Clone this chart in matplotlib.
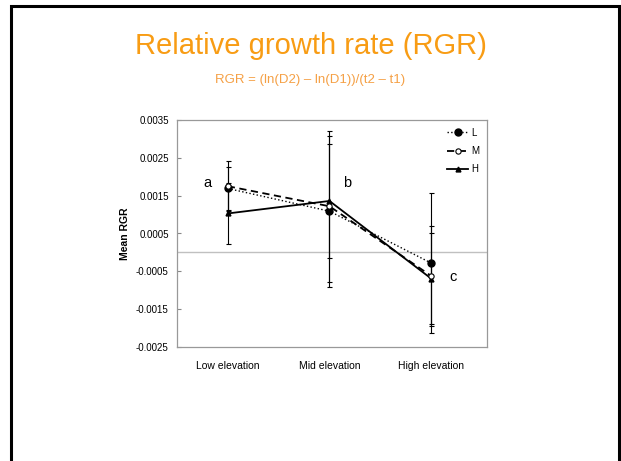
"""
Relative growth rate (RGR) by elevation, three treatment groups
"""
import matplotlib
matplotlib.use('Agg')
import matplotlib.pyplot as plt
from matplotlib.patches import Rectangle
from matplotlib.lines import Line2D

plt.rcParams['font.family'] = ['Liberation Sans', 'DejaVu Sans']

# category labels
sites = ['Low elevation', 'Mid elevation', 'High elevation']

# mean RGR per group (L, M, H)
rgr_L = [0.00169, 0.00109, -0.00028]
rgr_M = [0.00175, 0.00122, -0.00062]
rgr_H = [0.00103, 0.00136, -0.00069]

# error bar half-widths
err_L = [0.00057, 0.00200, 0.00185]
err_M = [0.00066, 0.00200, 0.00132]
err_H = [0.00081, 0.00150, 0.00120]

# significance letters
letters = ['a', 'b', 'c']
letter_x = [-0.2, 1.17, 2.22]
letter_y = [0.00183, 0.00183, -0.00066]

yticks = [0.0035, 0.0025, 0.0015, 0.0005, -0.0005, -0.0015, -0.0025]

fig = plt.figure(figsize=(6.21, 4.61), dpi=100)
fig.patch.set_facecolor('white')

# slide border
fig.patches.append(Rectangle((11 / 621, -0.05), 608 / 621, (461 - 6) / 461 + 0.05,
                             transform=fig.transFigure, fill=False,
                             edgecolor='black', linewidth=2.2))

fig.text(0.5, 1 - 46 / 461, 'Relative growth rate (RGR)', ha='center', va='center',
         fontsize=21, color='#F89C14')
fig.text(0.5, 1 - 80 / 461, 'RGR = (ln(D2) \u2013 ln(D1))/(t2 \u2013 t1)', ha='center',
         va='center', fontsize=9.5, color='#F5A045')

ax = fig.add_axes([177 / 621, 1 - 347 / 461, 310 / 621, 227 / 461])
x = list(range(len(sites)))

ax.axhline(0, color='#c0c0c0', lw=1.0, zorder=1)

# line/marker styles per group
style_L = dict(ls=':', lw=1.0, marker='o', ms=5, mfc='black', mec='black')
style_M = dict(ls='--', lw=1.3, marker='o', ms=3.8, mfc='white', mec='black', mew=0.8, dashes=(4, 2.5))
style_H = dict(ls='-', lw=1.3, marker='^', ms=3.5, mfc='black', mec='black')

common = dict(ecolor='black', elinewidth=0.8, capsize=1.8, capthick=0.8, color='black')
ax.errorbar(x, rgr_L, yerr=err_L, zorder=4, **style_L, **common)
ax.errorbar(x, rgr_M, yerr=err_M, zorder=5, **style_M, **common)
ax.errorbar(x, rgr_H, yerr=err_H, zorder=3, **style_H, **common)

for lt, lx, ly in zip(letters, letter_x, letter_y):
    ax.text(lx, ly, lt, fontsize=10.5, ha='center', va='center')

ax.set_xlim(-0.5, 2.55)
ax.set_ylim(-0.0025, 0.0035)
ax.set_yticks(yticks)
ax.set_yticklabels([f'{v:.4f}' for v in yticks], fontsize=7)
ax.set_xticks(x)
ax.set_xticklabels(sites, fontsize=7.5)
ax.tick_params(axis='x', length=0, pad=10)
ax.tick_params(axis='y', direction='in', length=3, color='#888888', pad=6)
for s in ax.spines.values():
    s.set_color('#999999')
    s.set_linewidth(0.9)

ax.set_ylabel('Mean RGR', fontsize=7.5, fontweight='bold', labelpad=4)

handles = [Line2D([], [], color='black', **style_L),
           Line2D([], [], color='black', **style_M),
           Line2D([], [], color='black', **style_H)]
ax.legend(handles, ['L', 'M', 'H'], loc='upper right', frameon=False, fontsize=7,
          handlelength=2.2, handletextpad=0.3, labelspacing=0.85, borderaxespad=0.4)

fig.savefig('out.png', dpi=100, facecolor='white')
